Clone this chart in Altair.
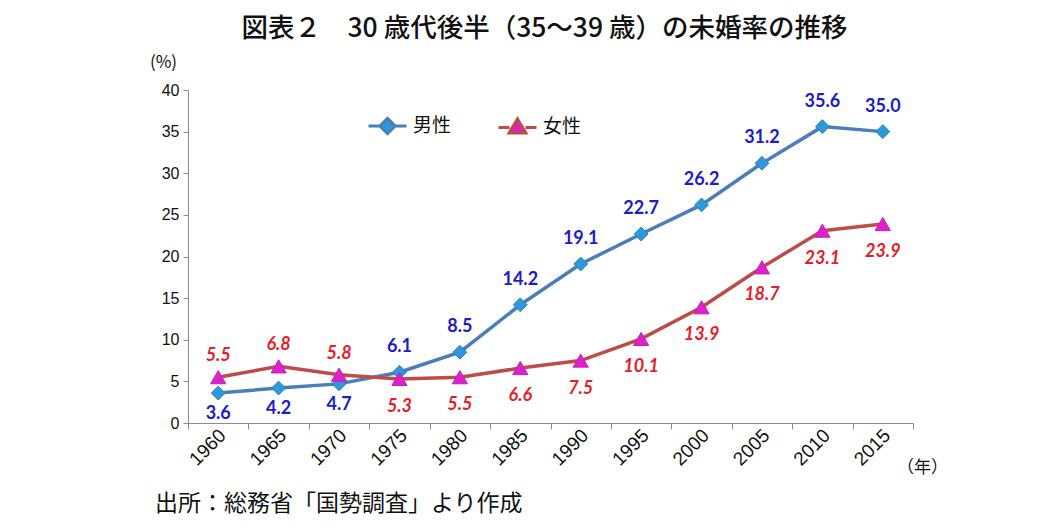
import altair as alt
import pandas as pd

years = ["1960", "1965", "1970", "1975", "1980", "1985", "1990", "1995", "2000", "2005", "2010", "2015"]
male = [3.6, 4.2, 4.7, 6.1, 8.5, 14.2, 19.1, 22.7, 26.2, 31.2, 35.6, 35.0]
female = [5.5, 6.8, 5.8, 5.3, 5.5, 6.6, 7.5, 10.1, 13.9, 18.7, 23.1, 23.9]
series_names = ["男性", "女性"]
y_ticks = [0, 5, 10, 15, 20, 25, 30, 35, 40]
title_text = "図表２　30 歳代後半（35～39 歳）の未婚率の推移"
source_text = ["出所：総務省「国勢調査」より作成"]

line_colors = ["#4A7EBB", "#BE4B48"]
marker_colors = ["#2C9AD8", "#DD22CC"]
label_colors = ["#1C1CC8", "#E41E2A"]
JP = "Noto Sans CJK JP"

rows = []
for name, vals in zip(series_names, [male, female]):
    for yr, v in zip(years, vals):
        rows.append({"year": yr, "series": name, "value": v, "label": f"{v:.1f}"})
df = pd.DataFrame(rows)

x_enc = alt.X(
    "year:O", sort=years, bandPosition=0.5,
    scale=alt.Scale(type="band", paddingInner=0, paddingOuter=0),
    axis=alt.Axis(
        title="（年）", titleX=734, titleY=44, titleAngle=0, titleAlign="center",
        titleBaseline="middle", titleFont=JP, titleFontSize=17, titleFontWeight="normal",
        titleColor="#111",
        labelAngle=-45, labelAlign="right", labelBaseline="middle",
        labelFont="Liberation Sans", labelFontSize=19, labelColor="#111", labelPadding=3,
        labelOffset=4,
        tickBand="extent", tickSize=6, tickColor="#8C8C8C", domainColor="#8C8C8C",
        grid=False,
    ),
)
y_enc = alt.Y(
    "value:Q",
    scale=alt.Scale(domain=[0, 40], nice=False),
    axis=alt.Axis(
        values=y_ticks, title="(%)", titleAngle=0, titleX=-25, titleY=-28,
        titleAlign="center", titleBaseline="middle", titleFont=JP, titleFontSize=17,
        titleFontWeight="normal", titleColor="#111",
        labelFont="Liberation Sans", labelFontSize=16, labelColor="#111", labelPadding=4,
        tickSize=5, tickColor="#8C8C8C", domainColor="#8C8C8C", grid=False,
    ),
)

base = alt.Chart(df)

lines = base.mark_line(strokeWidth=3.5).encode(
    x=x_enc, y=y_enc,
    color=alt.Color("series:N", scale=alt.Scale(domain=series_names, range=line_colors), legend=None),
)

male_pts = base.transform_filter(alt.datum.series == series_names[0]).mark_point(
    shape="diamond", filled=True, size=190, fill=marker_colors[0], stroke="#2A7FC0",
    strokeWidth=1, opacity=1,
).encode(x=x_enc, y=y_enc)
female_pts = base.transform_filter(alt.datum.series == series_names[1]).mark_point(
    shape="triangle-up", filled=True, size=230, fill=marker_colors[1], stroke="#C81CB8",
    strokeWidth=1, opacity=1,
).encode(x=x_enc, y=y_enc)

early = "toNumber(datum.year) <= 1970"
late = "toNumber(datum.year) > 1970"

def labels(series_idx, cond, dy, italic):
    return base.transform_filter(alt.datum.series == series_names[series_idx]).transform_filter(cond).mark_text(
        font="Lato", fontSize=18, fontWeight="bold", fontStyle="italic" if italic else "normal",
        color=label_colors[series_idx], dy=dy, baseline="middle", align="center",
    ).encode(x=x_enc, y=y_enc, text="label:N")

male_below = labels(0, early, 21, False)
male_above = labels(0, late, -25, False)
female_above = labels(1, early, -21, True)
female_below = labels(1, late, 28, True)

diamond_path = "M-1,0L-0.4,0M0.4,0L1,0M0,-0.4L0.4,0L0,0.4L-0.4,0Z"
triangle_path = "M-1,0.05L-0.42,0.05M0.42,0.05L1,0.05M0,-0.4L0.44,0.33L-0.44,0.33Z"

leg = alt.Legend(
    orient="none", legendX=179, legendY=15, direction="horizontal", title=None,
    symbolSize=1444, symbolStrokeWidth=3, symbolOpacity=1,
    labelFont=JP, labelFontSize=19, labelColor="#111", labelOffset=5, columnPadding=40,
)
legend_layer = base.transform_filter("false").mark_point(filled=False, strokeWidth=3).encode(
    stroke=alt.Stroke("series:N", scale=alt.Scale(domain=series_names, range=line_colors), legend=leg),
    fill=alt.Fill("series:N", scale=alt.Scale(domain=series_names, range=marker_colors), legend=leg),
    shape=alt.Shape("series:N", scale=alt.Scale(domain=series_names, range=[diamond_path, triangle_path]), legend=leg),
)

footer = alt.Chart(pd.DataFrame({"t": source_text})).mark_text(
    font=JP, fontSize=23, align="left", baseline="middle", color="#111",
).encode(x=alt.value(-33), y=alt.value(414), text="t:N")

chart = alt.layer(
    lines, male_pts, female_pts, male_below, male_above, female_above, female_below,
    legend_layer, footer,
).resolve_scale(color="independent").properties(
    width=725, height=333,
    title=alt.Title(title_text, font=JP, fontSize=26.5, fontWeight=500, color="#111",
                    anchor="middle", offset=11, dx=-6),
    padding={"left": 180, "top": 82, "right": 130, "bottom": 95},
    autosize=alt.AutoSizeParams(type="none"),
).configure_view(stroke=None)

chart.save("out.html", embed_options={"renderer": "svg", "actions": False})
